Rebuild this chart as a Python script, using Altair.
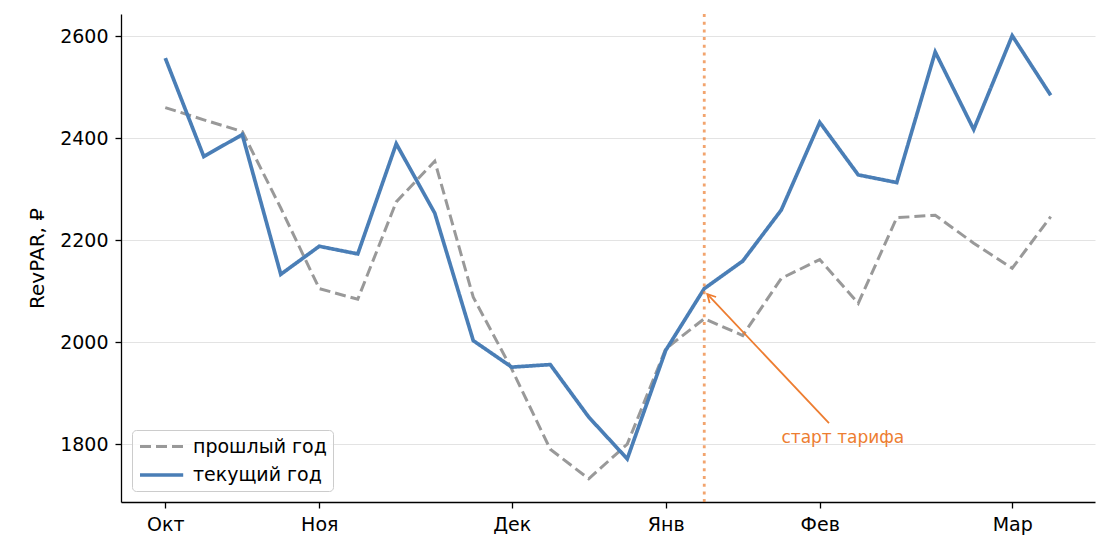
import altair as alt
import pandas as pd

weeks = list(range(24))
prev_year = [2460, 2436, 2413, 2263, 2105, 2084, 2275, 2355, 2088, 1947, 1790, 1732,
             1800, 1987, 2046, 2013, 2125, 2162, 2076, 2244, 2249, 2194, 2145, 2246]
cur_year = [2557, 2364, 2407, 2133, 2188, 2173, 2389, 2253, 2003, 1951, 1956, 1853,
            1771, 1984, 2105, 2159, 2259, 2431, 2328, 2313, 2569, 2417, 2601, 2484]
series_names = ["прошлый год", "текущий год"]
tick_weeks = [0, 4, 9, 13, 17, 22]
tick_labels = ["Окт", "Ноя", "Дек", "Янв", "Фев", "Мар"]

start_week = [14]
ann_text = ["старт тарифа"]
ann_tip = [14.08, 2094]
ann_tail = [17.24, 1841]
ann_text_pos = [17.6, 1802]

rows = []
for w, p, c in zip(weeks, prev_year, cur_year):
    rows.append({"week": w, "value": p, "series": series_names[0]})
    rows.append({"week": w, "value": c, "series": series_names[1]})
df = pd.DataFrame(rows)

label_map = "{" + ",".join(f"'{w}':'{l}'" for w, l in zip(tick_weeks, tick_labels)) + "}"

FONT = "DejaVu Sans"
ORANGE = "#ED7D31"

x_scale = alt.Scale(domain=[-1.15, 24.15], nice=False, zero=False)
y_scale = alt.Scale(domain=[1686.5, 2643.5], nice=False, zero=False)

x_enc = alt.X("week:Q", scale=x_scale,
              axis=alt.Axis(values=tick_weeks, labelExpr=f"{label_map}[datum.value]",
                            title=None, grid=False))
y_enc = alt.Y("value:Q", scale=y_scale,
              axis=alt.Axis(values=[1800, 2000, 2200, 2400, 2600], title="RevPAR, ₽",
                            grid=True, format="d"))


def make_legend():
    return alt.Legend(title=None, orient="none", legendX=11, legendY=416,
                      symbolType="M-1,0L3.8,0", symbolSize=324, labelFontSize=19,
                      labelFont=FONT, labelColor="#000000", labelOffset=33,
                      rowPadding=7, padding=6, strokeColor="#cccccc",
                      fillColor="rgba(255,255,255,0.8)", cornerRadius=4)


lines = alt.Chart(df).mark_line(strokeCap="butt", strokeJoin="miter").encode(
    x=x_enc,
    y=y_enc,
    color=alt.Color("series:N", scale=alt.Scale(domain=series_names, range=["#999999", "#4a7eb6"]),
                    legend=make_legend()),
    strokeDash=alt.StrokeDash("series:N", scale=alt.Scale(domain=series_names, range=[[11, 5], [1, 0]]),
                              legend=make_legend()),
    strokeWidth=alt.StrokeWidth("series:N", scale=alt.Scale(domain=series_names, range=[3.0, 3.7]),
                                legend=make_legend()),
    order=alt.Order("week:Q"),
)

vline = alt.Chart(pd.DataFrame({"week": start_week})).mark_rule(
    color=ORANGE, opacity=0.7, strokeWidth=2.8, strokeDash=[3, 4.7]
).encode(x=alt.X("week:Q", scale=x_scale))

arrow_df = pd.DataFrame({"x": [ann_tail[0]], "y": [ann_tail[1]], "x2": [ann_tip[0]], "y2": [ann_tip[1]]})
arrow_line = alt.Chart(arrow_df).mark_rule(color=ORANGE, strokeWidth=1.8).encode(
    x=alt.X("x:Q", scale=x_scale), y=alt.Y("y:Q", scale=y_scale),
    x2="x2:Q", y2="y2:Q")

head_df = pd.DataFrame({"x": [ann_tip[0]], "y": [ann_tip[1]]})
arrow_head = alt.Chart(head_df).mark_point(
    shape="M-0.55,1 L0,0 L0.55,1", filled=False, stroke=ORANGE, strokeWidth=1.8,
    size=260, angle=316.6, opacity=1
).encode(x=alt.X("x:Q", scale=x_scale), y=alt.Y("y:Q", scale=y_scale))

text_df = pd.DataFrame({"x": [ann_text_pos[0]], "y": [ann_text_pos[1]], "t": ann_text})
ann = alt.Chart(text_df).mark_text(
    color=ORANGE, font=FONT, fontSize=17, align="center", baseline="alphabetic"
).encode(x=alt.X("x:Q", scale=x_scale), y=alt.Y("y:Q", scale=y_scale), text="t:N")

chart = alt.layer(lines, vline, arrow_line, arrow_head, ann).resolve_scale(
    x="shared", y="shared"
).properties(
    width=974, height=488,
    autosize=alt.AutoSizeParams(type="none"),
    padding={"left": 113, "top": 6, "right": 10, "bottom": 40},
    background="white",
).configure_view(
    stroke=None
).configure_axis(
    domainColor="#000000", domainWidth=1.3,
    tickColor="#000000", tickWidth=1.3, tickSize=6,
    labelFont=FONT, labelFontSize=19, labelColor="#000000", labelPadding=7,
    titleFont=FONT, titleFontSize=20, titleColor="#000000", titleFontWeight="normal",
    gridColor="#e3e3e3", gridWidth=1.2,
).configure_axisY(
    titlePadding=12
)

chart.save("out.html", embed_options={"renderer": "svg", "actions": False})
